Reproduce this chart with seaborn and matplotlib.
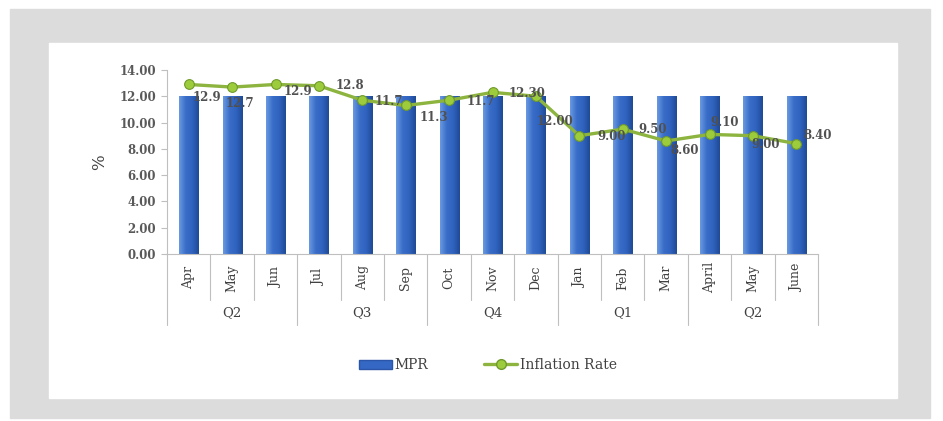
import numpy as np
import matplotlib
matplotlib.use("Agg")
import matplotlib.pyplot as plt
import matplotlib.patches as mpatches
import matplotlib.transforms as mtransforms
from matplotlib.lines import Line2D
from matplotlib.colors import LinearSegmentedColormap
import seaborn as sns

# ========== data ==========
months = ["Apr", "May", "Jun", "Jul", "Aug", "Sep", "Oct", "Nov", "Dec",
          "Jan", "Feb", "Mar", "April", "May", "June"]
quarters = ["Q2", "Q3", "Q4", "Q1", "Q2"]
mpr = [12.0] * 15
inflation = [12.9, 12.7, 12.9, 12.8, 11.7, 11.3, 11.7, 12.30, 12.00,
             9.00, 9.50, 8.60, 9.10, 9.00, 8.40]
inflation_labels = ["12.9", "12.7", "12.9", "12.8", "11.7", "11.3", "11.7", "12.30", "12.00",
                    "9.00", "9.50", "8.60", "9.10", "9.00", "8.40"]
# label offsets (pixels, x right / y down)
label_offsets = [(18, 13), (8, 16), (22, 7), (31, 0), (27, 1), (28, 12), (32, 1), (35, 1),
                 (19, 25), (32, 1), (30, 0), (19, 10), (15, -12), (13, 9), (21, -8)]

sns.set_style("white")
plt.rcParams["font.family"] = ["DejaVu Serif"]

W, H = 943, 421
fig = plt.figure(figsize=(W / 100, H / 100), dpi=100)
fig.patch.set_facecolor("white")

# gray frame + white panel
fig.patches.append(mpatches.Rectangle((10 / W, 3 / H), 920 / W, 409 / H,
                                      transform=fig.transFigure, color="#dcdcdc", zorder=-10))
fig.patches.append(mpatches.Rectangle((49 / W, 23 / H), 848 / W, 355 / H,
                                      transform=fig.transFigure, color="white", zorder=-9))

ax = fig.add_axes([167 / W, 167 / H, 651 / W, 184 / H])
ax.set_facecolor("none")
x = np.arange(len(months))

sns.barplot(x=x, y=mpr, ax=ax, color="#3568c4", width=0.44, saturation=1,
            edgecolor="none", zorder=2)

# gradient fill on bars
cmap = LinearSegmentedColormap.from_list("bar", ["#6a9ae2", "#3a6dc8", "#2f63bf", "#1f4a95"])
grad = np.linspace(0, 1, 64).reshape(1, -1)
for p in list(ax.patches):
    bx, by = p.get_x(), p.get_y()
    bw, bh = p.get_width(), p.get_height()
    im = ax.imshow(grad, cmap=cmap, extent=(bx, bx + bw, by, by + bh),
                   aspect="auto", zorder=2.1, interpolation="bicubic")
    im.set_clip_path(p)

sns.lineplot(x=x, y=inflation, ax=ax, color="#8cb43e", linewidth=2.4, marker="o",
             markersize=7, markerfacecolor="#9ccc3c", markeredgecolor="#6f9a2a",
             markeredgewidth=0.8, zorder=4)

for i, (v, lab) in enumerate(zip(inflation, inflation_labels)):
    dx, dy = label_offsets[i]
    ax.annotate(lab, (i, v), xytext=(dx * 0.72, -dy * 0.72), textcoords="offset points",
                ha="center", va="center", fontsize=8.5, color="#505050",
                fontweight="semibold", zorder=5)

ax.set_xlim(-0.5, len(months) - 0.5)
ax.set_ylim(0, 14)
ax.set_yticks(np.arange(0, 14.01, 2))
ax.set_yticklabels([f"{t:.2f}" for t in np.arange(0, 14.01, 2)],
                   fontsize=8.5, fontweight="bold", color="#595959")
ax.tick_params(axis="y", length=4, color="#bfbfbf", width=0.8, left=True, pad=4)
ax.set_xticks([])
ax.set_xlabel("")
ax.set_ylabel("%", fontsize=12, color="#404040")
ax.yaxis.set_label_coords(-0.09, 0.5)
for s in ["top", "right"]:
    ax.spines[s].set_visible(False)
for s in ["left", "bottom"]:
    ax.spines[s].set_color("#bfbfbf")
    ax.spines[s].set_linewidth(0.8)

# multi-level category axis
trans = mtransforms.blended_transform_factory(ax.transData, ax.transAxes)
for b in range(len(months) + 1):
    bottom = -0.386 if b % 3 == 0 else -0.25
    ax.add_line(Line2D([b - 0.5, b - 0.5], [0, bottom], transform=trans,
                       color="#bfbfbf", linewidth=0.8, clip_on=False))
for i, m in enumerate(months):
    ax.text(i, -0.13, m, transform=trans, rotation=90, ha="center", va="center",
            fontsize=9, color="#404040")
for q, name in enumerate(quarters):
    ax.text(q * 3 + 1, -0.32, name, transform=trans, ha="center", va="center",
            fontsize=9.5, color="#404040")

# legend
handles = [mpatches.Patch(facecolor="#3568c4", edgecolor="#2a55a8"),
           Line2D([0], [0], color="#8cb43e", linewidth=2.4, marker="o", markersize=7,
                  markerfacecolor="#9ccc3c", markeredgecolor="#6f9a2a")]
leg = fig.legend(handles, ["MPR", "Inflation Rate"], loc="center",
                 bbox_to_anchor=(488 / W, 1 - 365 / H), ncol=2, frameon=False,
                 fontsize=10, handlelength=2.4, handleheight=0.6, handletextpad=0.2,
                 columnspacing=4)
for t in leg.get_texts():
    t.set_color("#404040")

fig.savefig("out.png", dpi=100)
